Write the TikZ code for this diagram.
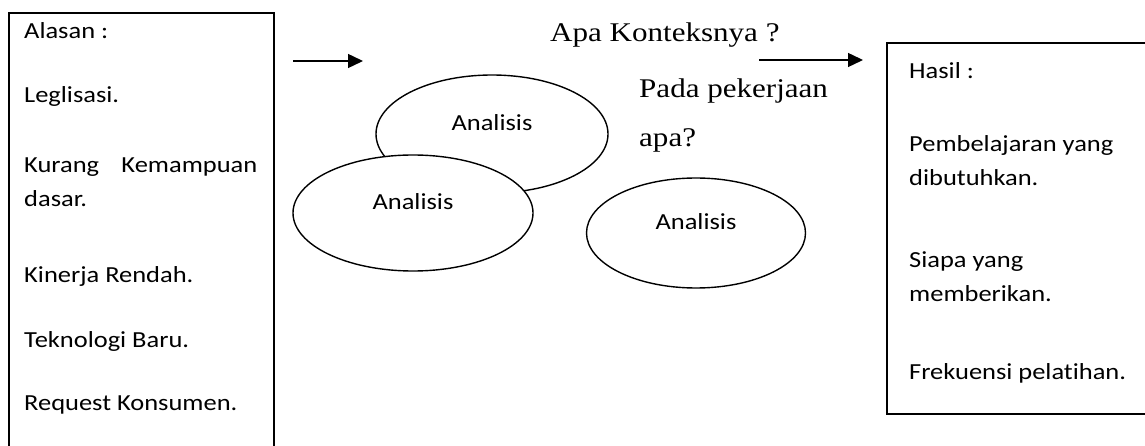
\documentclass[tikz,border=0pt]{standalone}
\usepackage{fontspec}
\setmainfont{Carlito}[FakeStretch=1.15, Ligatures=NoCommon]
\newfontfamily\romfont{Liberation Serif}[FakeStretch=1.15]
\usetikzlibrary{arrows.meta,shapes.geometric}

\tikzset{
  item/.style={anchor=base west, inner sep=0pt, font=\fontsize{23}{28}\selectfont},
  ask/.style={anchor=base west, inner sep=0pt, font=\romfont\fontsize{27}{32}\selectfont},
  blob/.style={ellipse, draw, line width=1.4pt, fill=white, inner sep=0pt,
    text depth=22pt, font=\fontsize{23}{28}\selectfont},
  flow/.style={line width=1.4pt, -{Triangle[length=15pt,width=14pt]}},
}

\begin{document}
\begin{tikzpicture}[x=1pt,y=-1pt]
  \useasboundingbox (0,0) rectangle (1145,446);
  % kotak alasan dan kotak hasil
  \draw[line width=1.6pt] (9,446) -- (9,13) -- (274,13) -- (274,446);
  \draw[line width=1.6pt] (1145,43) -- (887,43) -- (887,414) -- (1145,414);
  \path
    (24,39) node[item] (al0) {Alasan :}
    (24,103) node[item] (al1) {Leglisasi.}
    (24,173) node[item, text width=233pt] (al2) {Kurang\hfill Kemampuan}
    (24,207) node[item] (al3) {dasar.}
    (24,282) node[item] (al4) {Kinerja Rendah.}
    (24,347) node[item] (al5) {Teknologi Baru.}
    (24,410) node[item] (al6) {Request Konsumen.};
  \path
    (909,79) node[item] (ha0) {Hasil :}
    (909,152) node[item] (ha1) {Pembelajaran yang}
    (909,186) node[item] (ha2) {dibutuhkan.}
    (909,267) node[item] (ha3) {Siapa yang}
    (909,301) node[item] (ha4) {memberikan.}
    (909,379) node[item] (ha5) {Frekuensi pelatihan.};
  % analisis
  \node[blob, minimum width=232pt, minimum height=118pt] (an1) at (492,134) {Analisis};
  \node[blob, minimum width=240pt, minimum height=116pt] (an2) at (413,213) {Analisis};
  \node[blob, minimum width=219pt, minimum height=110pt] (an3) at (696,233) {Analisis};
  \path
    (550,42) node[ask] (q1) {Apa Konteksnya ?}
    (639,98) node[ask] (q2) {Pada pekerjaan}
    (639,147) node[ask] (q3) {apa?};
  % panah
  \coordinate (in1) at (293,61);
  \coordinate (in2) at (363,61);
  \coordinate (out1) at (759,60);
  \coordinate (out2) at (863,60);
  \draw[flow] (in1) -- (in2);
  \draw[flow] (out1) -- (out2);
\end{tikzpicture}
\end{document}
